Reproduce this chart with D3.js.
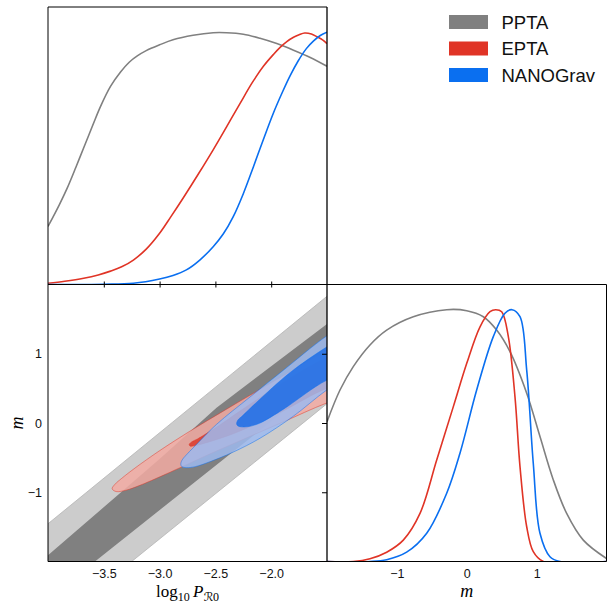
<!DOCTYPE html>
<html>
<head>
<meta charset="utf-8">
<script src="https://cdn.jsdelivr.net/npm/d3@7"></script>
<style>
  body { margin: 0; background: #fff; }
  svg { display: block; }
  .tick text { font-family: 'Liberation Sans', Arial, sans-serif; font-size: 12.5px; fill: #111; }
</style>
</head>
<body>
<svg id="fig" width="615" height="606"></svg>
<script>
// ---- data ----
const seriesNames = ['PPTA', 'EPTA', 'NANOGrav']
const seriesColors = ['#808080', '#e03426', '#0a6ff0']

const logPDomain = [-4.0, -1.5]
const mDomain = [-2, 2]
const logPTicks = [-3.5, -3.0, -2.5, -2.0]
const mTicks = [-1, 0, 1]

// 1D marginal of log10 P_R0 (peak normalised to 1)
const pptaLogPx = [-4.0, -3.9, -3.83, -3.75, -3.68, -3.6, -3.53, -3.44, -3.35, -3.27, -3.2, -3.12, -3.0, -2.88, -2.7, -2.52, -2.4, -2.25, -2.1, -1.95, -1.8, -1.65, -1.5]
const pptaLogPy = [0.23, 0.315, 0.38, 0.465, 0.542, 0.63, 0.705, 0.785, 0.842, 0.882, 0.906, 0.927, 0.95, 0.97, 0.988, 0.998, 0.998, 0.992, 0.976, 0.955, 0.929, 0.9, 0.865]
const eptaLogPx = [-4.0, -3.85, -3.68, -3.55, -3.44, -3.34, -3.235, -3.12, -3.0, -2.9, -2.79, -2.65, -2.52, -2.4, -2.28, -2.17, -2.07, -1.98, -1.92, -1.86, -1.8, -1.75, -1.7, -1.64, -1.59, -1.54, -1.5]
const eptaLogPy = [0.005, 0.013, 0.025, 0.038, 0.053, 0.07, 0.097, 0.14, 0.203, 0.268, 0.342, 0.44, 0.534, 0.625, 0.717, 0.8, 0.865, 0.912, 0.94, 0.963, 0.98, 0.99, 0.997, 0.993, 0.982, 0.97, 0.955]
const nanoLogPx = [-4.0, -3.5, -3.235, -3.0, -2.88, -2.76, -2.64, -2.52, -2.43, -2.34, -2.25, -2.16, -2.07, -1.98, -1.9, -1.83, -1.76, -1.685, -1.62, -1.56, -1.5]
const nanoLogPy = [0.0, 0.001, 0.005, 0.022, 0.036, 0.058, 0.097, 0.15, 0.2, 0.269, 0.36, 0.466, 0.575, 0.68, 0.762, 0.828, 0.885, 0.935, 0.966, 0.987, 1.0]

// 1D marginal of m
const pptaMx = [-2.0, -1.814, -1.624, -1.385, -1.146, -0.765, -0.287, 0.0, 0.237, 0.428, 0.619, 0.858, 1.048, 1.239, 1.43, 1.668, 2.0]
const pptaMy = [0.555, 0.681, 0.774, 0.86, 0.919, 0.972, 1.0, 0.996, 0.972, 0.919, 0.833, 0.668, 0.496, 0.324, 0.191, 0.085, 0.012]
const eptaMx = [-2.0, -1.624, -1.385, -1.146, -0.908, -0.669, -0.43, -0.192, 0.0, 0.19, 0.333, 0.414, 0.5, 0.595, 0.69, 0.762, 0.858, 0.952, 1.096, 2.0]
const eptaMy = [0.0, 0.0, 0.011, 0.037, 0.085, 0.191, 0.403, 0.615, 0.787, 0.932, 0.992, 1.0, 0.992, 0.893, 0.655, 0.377, 0.138, 0.039, 0.0, 0.0]
const nanoMx = [-2.0, -1.385, -1.146, -0.86, -0.573, -0.287, -0.097, 0.142, 0.38, 0.547, 0.648, 0.762, 0.858, 0.952, 1.048, 1.191, 1.335, 2.0]
const nanoMy = [0.0, 0.0, 0.007, 0.037, 0.112, 0.271, 0.43, 0.681, 0.893, 0.986, 1.0, 0.972, 0.76, 0.39, 0.112, 0.019, 0.0, 0.0]

// 2D contours, boundary points [log10 P_R0, m]
const pptaBand95 = [[-4.0, -1.455], [-1.5, 1.83], [-1.5, 0.279], [-3.25, -2.0], [-4.0, -2.0]]
const pptaBand68 = [[-4.0, -1.91], [-3.0, -0.52], [-2.49, 0.22], [-1.5, 1.43], [-1.5, 0.665], [-3.579, -2.0], [-4.0, -2.0]]
const eptaContour95 = [[-3.425, -0.95], [-3.4, -0.885], [-3.34, -0.8], [-3.22, -0.65], [-3.0, -0.4], [-2.73, -0.12], [-2.4, 0.2], [-2.0, 0.58], [-1.5, 1.05], [-1.2, 1.3], [-1.0, 1.3], [-0.95, 0.9], [-1.1, 0.5], [-1.5, 0.29], [-1.9, 0.01], [-2.3, -0.27], [-2.61, -0.49], [-2.877, -0.69], [-3.176, -0.9], [-3.3, -0.97], [-3.39, -0.99]]
const eptaContour68 = [[-2.735, -0.31], [-2.71, -0.27], [-2.66, -0.23], [-2.5, -0.07], [-2.2, 0.26], [-1.8, 0.68], [-1.5, 0.95], [-1.2, 1.15], [-1.0, 1.1], [-1.0, 0.8], [-1.2, 0.62], [-1.5, 0.5], [-1.9, 0.17], [-2.3, -0.13], [-2.55, -0.27], [-2.69, -0.33], [-2.725, -0.335]]
const nanoContour95 = [[-2.81, -0.6], [-2.8, -0.54], [-2.76, -0.46], [-2.7, -0.36], [-2.49, -0.02], [-2.19, 0.375], [-1.9, 0.75], [-1.5, 1.26], [-1.2, 1.55], [-1.0, 1.6], [-0.95, 1.3], [-1.1, 0.9], [-1.5, 0.48], [-1.8, 0.1], [-2.1, -0.22], [-2.34, -0.42], [-2.55, -0.56], [-2.68, -0.63], [-2.76, -0.645], [-2.8, -0.63]]
const nanoContour68 = [[-2.31, -0.01], [-2.3, 0.04], [-2.26, 0.1], [-2.13, 0.3], [-1.83, 0.73], [-1.5, 1.1], [-1.2, 1.38], [-1.0, 1.4], [-0.95, 1.15], [-1.1, 0.85], [-1.5, 0.62], [-1.89, 0.2], [-2.1, 0.0], [-2.2, -0.05], [-2.27, -0.055], [-2.3, -0.04]]

// ---- layout ----
const svg = d3.select('#fig')
const L = 48, C = 327, R = 606.5, T = 7, Mid = 284.5, B = 561.5

const xP = d3.scaleLinear().domain(logPDomain).range([L, C])
const xM = d3.scaleLinear().domain(mDomain).range([C, R])
const yP = d3.scaleLinear().domain([0, 1.1]).range([Mid, T])
const yMd = d3.scaleLinear().domain([0, 1.1]).range([B, Mid])
const yM = d3.scaleLinear().domain(mDomain).range([B, Mid])

const defs = svg.append('defs')
function clip(id, x, y, w, h) {
    defs.append('clipPath').attr('id', id)
        .append('rect').attr('x', x).attr('y', y).attr('width', w).attr('height', h)
}
clip('cTop', L, T, C - L, Mid - T)
clip('c2d', L, Mid, C - L, B - Mid)
clip('cM', C, Mid, R - C, B - Mid)

// ---- 2D panel ----
let g2 = svg.append('g').attr('clip-path', 'url(#c2d)')
let polyLine = d3.line().x(d => xP(d[0])).y(d => yM(d[1]))
let ellLine = d3.line().x(d => xP(d[0])).y(d => yM(d[1])).curve(d3.curveCatmullRomClosed.alpha(0.5))

g2.append('path').attr('d', polyLine(pptaBand95) + 'Z')
    .style('fill', '#cccccc').style('stroke', '#b4b4b4').style('stroke-width', 0.8)
g2.append('path').attr('d', polyLine(pptaBand68) + 'Z')
    .style('fill', '#808080')

let contours = [
    [eptaContour95, '#f2aaa2', '#e03426'],
    [eptaContour68, '#dc3a2c', '#e03426'],
    [nanoContour95, '#9dbaee', '#0a6ff0'],
    [nanoContour68, '#1c6de6', '#0a6ff0']
]
contours.forEach(c => {
    g2.append('path').attr('d', ellLine(c[0]))
        .style('fill', c[1]).style('fill-opacity', 0.85)
        .style('stroke', c[2]).style('stroke-opacity', 0.6).style('stroke-width', 0.8)
})

// ---- 1D panels ----
let gTop = svg.append('g').attr('clip-path', 'url(#cTop)')
let gM = svg.append('g').attr('clip-path', 'url(#cM)')
let logPCurves = [[pptaLogPx, pptaLogPy], [eptaLogPx, eptaLogPy], [nanoLogPx, nanoLogPy]]
let mCurves = [[pptaMx, pptaMy], [eptaMx, eptaMy], [nanoMx, nanoMy]]

logPCurves.forEach((s, k) => {
    let line = d3.line().x((d, i) => xP(s[0][i])).y(d => yP(d)).curve(d3.curveCatmullRom.alpha(0.5))
    gTop.append('path').attr('d', line(s[1]))
        .style('fill', 'none').style('stroke', seriesColors[k]).style('stroke-width', 1.6)
})
mCurves.forEach((s, k) => {
    let line = d3.line().x((d, i) => xM(s[0][i])).y(d => yMd(d)).curve(d3.curveCatmullRom.alpha(0.5))
    gM.append('path').attr('d', line(s[1]))
        .style('fill', 'none').style('stroke', seriesColors[k]).style('stroke-width', 1.6)
})

// ---- frames ----
function seg(x1, y1, x2, y2, col, w) {
    svg.append('line').attr('x1', x1).attr('y1', y1).attr('x2', x2).attr('y2', y2)
        .style('stroke', col).style('stroke-width', w)
}
seg(L, T, C, T, '#000', 1)        // top of upper panel
seg(L, T, L, B, '#000', 1)        // left spine
seg(C, T, C, B, '#000', 1.3)      // shared middle spine
seg(L, Mid, R, Mid, '#000', 1)    // middle horizontal
seg(L, B, R, B, '#000', 1)        // bottom
seg(R, Mid, R, B, '#000', 1)      // right of m panel

// ---- axes ----
let fmtP = d3.format('.1f')
// ticks crossing the shared line under the top panel
svg.append('g').attr('transform', `translate(0,${Mid})`)
    .call(d3.axisTop(xP).tickValues(logPTicks).tickSize(3).tickFormat(''))
    .call(a => a.select('.domain').remove())
svg.append('g').attr('transform', `translate(0,${Mid})`)
    .call(d3.axisBottom(xP).tickValues(logPTicks).tickSize(3).tickFormat(''))
    .call(a => a.select('.domain').remove())
// inward ticks on the right side of the 2D panel
svg.append('g').attr('transform', `translate(${C},0)`)
    .call(d3.axisLeft(yM).tickValues(mTicks).tickSize(5).tickFormat(''))
    .call(a => a.select('.domain').remove())

// tick labels
svg.append('g').attr('transform', `translate(0,${B})`)
    .call(d3.axisBottom(xP).tickValues(logPTicks).tickSize(0).tickPadding(8).tickFormat(fmtP))
    .call(a => a.select('.domain').remove())
svg.append('g').attr('transform', `translate(0,${B})`)
    .call(d3.axisBottom(xM).tickValues(mTicks).tickSize(0).tickPadding(8).tickFormat(d3.format('d')))
    .call(a => a.select('.domain').remove())
svg.append('g').attr('transform', `translate(${L - 2},0)`)
    .call(d3.axisLeft(yM).tickValues(mTicks).tickSize(0).tickPadding(4).tickFormat(d3.format('d')))
    .call(a => a.select('.domain').remove())
svg.selectAll('.tick line').style('stroke', '#000')

// axis labels
let lab = svg.append('text')
    .attr('x', (L + C) / 2).attr('y', 597)
    .attr('text-anchor', 'middle')
    .style('font-family', "'Liberation Serif', 'DejaVu Serif', serif")
    .style('font-size', '17px')
lab.append('tspan').text('log')
lab.append('tspan').attr('dy', 4).style('font-size', '12px').text('10')
lab.append('tspan').attr('dy', -4).style('font-style', 'italic').text('\u2009P')
lab.append('tspan').attr('dy', 4).style('font-size', '12px')
    .style('font-family', "'DejaVu Sans', 'DejaVu Serif', sans-serif").text('\u211B')
lab.append('tspan').style('font-size', '12px').text('0')

svg.append('text')
    .attr('x', (C + R) / 2).attr('y', 597)
    .attr('text-anchor', 'middle')
    .style('font-family', "'Liberation Serif', 'DejaVu Serif', serif")
    .style('font-style', 'italic').style('font-size', '18px')
    .text('m')
svg.append('g')
    .attr('transform', `translate(23,${yM(0)}) rotate(-90)`)
    .append('text')
    .attr('text-anchor', 'middle')
    .style('font-family', "'Liberation Serif', 'DejaVu Serif', serif")
    .style('font-style', 'italic').style('font-size', '18px')
    .text('m')

// ---- legend ----
let leg = svg.append('g')
seriesNames.forEach((n, i) => {
    let cy = 22 + i * 26.5
    leg.append('rect')
        .attr('x', 449).attr('y', cy - 7).attr('width', 39).attr('height', 14)
        .style('fill', seriesColors[i])
    leg.append('text')
        .attr('x', 501.5).attr('y', cy)
        .attr('dominant-baseline', 'central')
        .style('font-family', "'Liberation Sans', Arial, sans-serif")
        .style('font-size', '18.5px')
        .style('fill', '#111')
        .text(n)
})
</script>
</body>
</html>
